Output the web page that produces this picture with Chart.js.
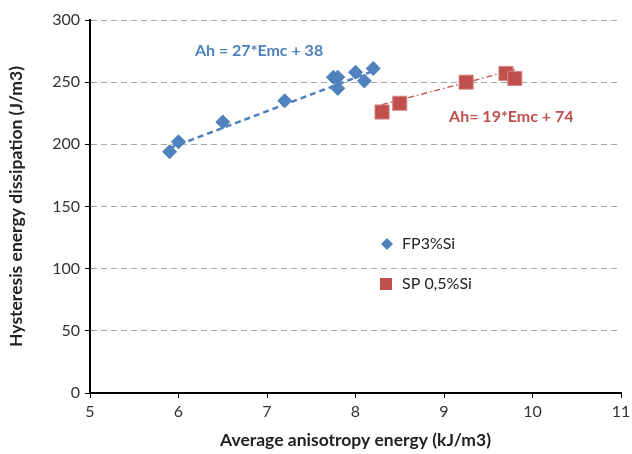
<!DOCTYPE html>
<html>
<head>
<meta charset="utf-8">
<script src="https://cdn.jsdelivr.net/npm/chart.js@4.4.1/dist/chart.umd.min.js"></script>
<style>
body{margin:0;background:#fff}
canvas{display:block}
</style>
</head>
<body>
<canvas id="chart" width="632" height="454"></canvas>
<script>
// FP3%Si samples
const fpX=[5.9,6.0,6.5,7.2,7.75,7.8,7.8,8.0,8.1,8.2]
const fpY=[194,202,218,235,254,254,245,258,251,261]
// SP 0,5%Si samples
const spX=[8.3,8.5,9.25,9.7,9.8]
const spY=[226,233,250,257,253]
// trend line end points (Ah = 27*Emc + 38, Ah = 19*Emc + 74)
const fpTrendX=[5.9,8.2]
const fpTrendY=[197,259]
const spTrendX=[8.3,9.8]
const spTrendY=[232,260]

const xTicks=[5,6,7,8,9,10,11]
const yTicks=[0,50,100,150,200,250,300]

const BLUE="#4F81BD"
const RED="#C0504D"
const FONT="Lato, 'Open Sans', sans-serif"

function pts(xs,ys){
return xs.map((x,i)=>({x:x,y:ys[i]}))
}

const labelsPlugin={
id:"labels",
afterDatasetsDraw(chart){
const c=chart.ctx
const xs=chart.scales.x
const ys=chart.scales.y
c.save()
c.font="bold 16px "+FONT
c.textAlign="center"
c.textBaseline="middle"
c.fillStyle=BLUE
c.fillText("Ah = 27*Emc + 38",xs.getPixelForValue(6.91),ys.getPixelForValue(275))
c.fillStyle=RED
c.fillText("Ah= 19*Emc + 74",xs.getPixelForValue(9.76),ys.getPixelForValue(222))

// legend
c.font="16px "+FONT
c.textAlign="left"
c.fillStyle=BLUE
c.beginPath()
c.moveTo(387,238);c.lineTo(393,244);c.lineTo(387,250);c.lineTo(381,244);c.closePath()
c.fill()
c.fillStyle=RED
c.fillRect(380,278,12,12)
c.fillStyle="#222"
c.fillText("FP3%Si",402,244)
c.fillText("SP 0,5%Si",402,284)
c.restore()
}
}

new Chart(document.getElementById("chart"),{
type:"scatter",
data:{
datasets:[
{
label:"FP3%Si trend",
data:pts(fpTrendX,fpTrendY),
showLine:true,
pointRadius:0,
borderColor:BLUE,
borderWidth:2.5,
borderDash:[6,4]
},
{
label:"SP 0,5%Si trend",
data:pts(spTrendX,spTrendY),
showLine:true,
pointRadius:0,
borderColor:RED,
borderWidth:1.3,
borderDash:[6,3,1.5,3]
},
{
label:"FP3%Si",
data:pts(fpX,fpY),
pointStyle:"rectRot",
pointRadius:7,
backgroundColor:BLUE,
borderColor:BLUE,
borderWidth:1
},
{
label:"SP 0,5%Si",
data:pts(spX,spY),
pointStyle:"rect",
pointRadius:10,
backgroundColor:RED,
borderColor:"#D88A88",
borderWidth:1
}
]
},
options:{
responsive:false,
animation:false,
layout:{padding:{top:20,right:9,left:0,bottom:0}},
plugins:{legend:{display:false},tooltip:{enabled:false}},
scales:{
x:{
type:"linear",
min:5,max:11,
afterBuildTicks(s){s.ticks=xTicks.map(v=>({value:v}))},
afterFit(s){s.height=61;s.paddingRight=5},
grid:{color:"rgba(0,0,0,0)",tickColor:"#000",tickLength:5,drawOnChartArea:false},
border:{color:"#000",width:2},
ticks:{color:"#333",font:{family:FONT,size:16},padding:4},
title:{display:true,text:"Average anisotropy energy (kJ/m3)",color:"#222",font:{family:FONT,size:17.5,weight:"bold"},padding:{top:0,bottom:3}}
},
y:{
min:0,max:300,
afterBuildTicks(s){s.ticks=yTicks.map(v=>({value:v}))},
afterFit(s){s.width=90},
grid:{color:c=>c.tick&&c.tick.value===0?"rgba(0,0,0,0)":"#A6A6A6",lineWidth:1,tickColor:"#000",tickLength:5},
border:{color:"#000",width:2,dash:[6,4]},
ticks:{color:"#333",font:{family:FONT,size:16},padding:5},
title:{display:true,text:"Hysteresis energy dissipation (J/m3)",color:"#222",font:{family:FONT,size:17.5,weight:"bold"},padding:{top:6,bottom:4}}
}
}
},
plugins:[labelsPlugin]
})
</script>
</body>
</html>
